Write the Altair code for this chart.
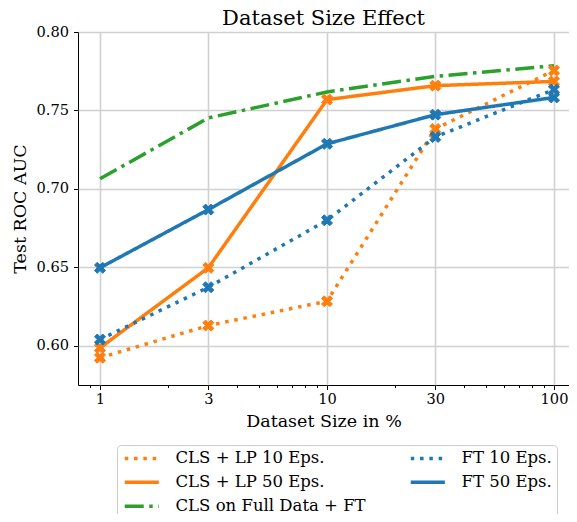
import altair as alt
import pandas as pd

# ---- data ----
sizes = [1, 3, 10, 30, 100]
series_names = [
    "CLS + LP 10 Eps.",
    "CLS + LP 50 Eps.",
    "CLS on Full Data + FT",
    "FT 10 Eps.",
    "FT 50 Eps.",
]
cls_lp_10 = [0.5924, 0.6129, 0.6284, 0.7382, 0.7755]
cls_lp_50 = [0.5987, 0.6497, 0.7569, 0.7658, 0.7685]
cls_full_ft = [0.7064, 0.7452, 0.7618, 0.7717, 0.7785]
ft_10 = [0.6040, 0.6373, 0.6800, 0.7331, 0.7633]
ft_50 = [0.6497, 0.6868, 0.7287, 0.7473, 0.7583]

values = [cls_lp_10, cls_lp_50, cls_full_ft, ft_10, ft_50]
colors = ["#ff7f0e", "#ff7f0e", "#2ca02c", "#1f77b4", "#1f77b4"]
dashes = [[3.5, 5.8], [1, 0], [19, 5.5, 3.5, 5.5], [3.5, 5.8], [1, 0]]
with_markers = [True, True, False, True, True]

major_ticks = [1, 3, 10, 30, 100]
minor_ticks = [0.8, 0.9, 2, 4, 5, 6, 7, 8, 9, 20, 40, 50, 60, 70, 80, 90]
y_ticks = [0.60, 0.65, 0.70, 0.75, 0.80]

rows = []
for name, vals, mk in zip(series_names, values, with_markers):
    for s, v in zip(sizes, vals):
        rows.append({"size": s, "auc": v, "series": name, "marker": mk})
df = pd.DataFrame(rows)

SERIF = "DejaVu Serif"
X_PATH = ("M-1,-0.5 L-0.5,-1 L0,-0.5 L0.5,-1 L1,-0.5 L0.5,0 L1,0.5 "
          "L0.5,1 L0,0.5 L-0.5,1 L-1,0.5 L-0.5,0 Z")
LEGEND_LINE = "M-1,0 L5.2,0"

major_test = "indexof([1,3,10,30,100], datum.value) >= 0"

x_scale = alt.Scale(type="log", domain=[10 ** -0.0969, 10 ** 2.0661], nice=False)
y_scale = alt.Scale(domain=[0.575, 0.80], nice=False, zero=False)

x_axis = alt.Axis(
    values=major_ticks + minor_ticks,
    labelExpr=f"{major_test} ? format(datum.value, 'd') : ''",
    labelOverlap=False,
    labelFlush=False,
    title="Dataset Size in %",
    titleFont=SERIF, titleFontSize=17.5, titleFontWeight="normal", titleColor="black",
    titlePadding=6,
    labelFont=SERIF, labelFontSize=14.6, labelColor="black", labelPadding=2,
    tickColor="black", tickWidth=1,
    tickSize={"condition": {"test": major_test, "value": 4.5}, "value": 2.5},
    grid=True, gridColor="#d0d0d0", gridWidth=1.6,
    gridOpacity={"condition": {"test": major_test, "value": 1}, "value": 0},
    domain=False,
)
y_axis = alt.Axis(
    values=y_ticks, format=".2f",
    title="Test ROC AUC",
    titleFont=SERIF, titleFontSize=17.5, titleFontWeight="normal", titleColor="black",
    titlePadding=7,
    labelFont=SERIF, labelFontSize=14.6, labelColor="black", labelPadding=5,
    tickColor="black", tickSize=4.5, tickWidth=1,
    grid=True, gridColor="#d0d0d0", gridWidth=1.6,
    domain=False,
)

legend = alt.Legend(
    title=None, orient="none", legendX=39, legendY=413,
    direction="vertical", columns=2,
    symbolType=LEGEND_LINE, symbolSize=121, symbolStrokeWidth=3.5, symbolOpacity=1,
    labelFont=SERIF, labelFontSize=16.5, labelColor="black", labelOffset=37, labelLimit=0,
    rowPadding=7, columnPadding=37, padding=5,
    strokeColor="#cccccc", cornerRadius=4, fillColor="white",
)

color_scale = alt.Scale(domain=series_names, range=colors)
dash_scale = alt.Scale(domain=series_names, range=dashes)

base = alt.Chart(df)

lines = base.mark_line(strokeWidth=3.5, strokeCap="butt", strokeJoin="round").encode(
    x=alt.X("size:Q", scale=x_scale, axis=x_axis),
    y=alt.Y("auc:Q", scale=y_scale, axis=y_axis),
    color=alt.Color("series:N", scale=color_scale, legend=legend),
    strokeDash=alt.StrokeDash("series:N", scale=dash_scale, legend=legend),
)

points = base.transform_filter("datum.marker").mark_point(
    shape=X_PATH, filled=True, size=121, opacity=1, strokeWidth=1
).encode(
    x=alt.X("size:Q", scale=x_scale),
    y=alt.Y("auc:Q", scale=y_scale),
    color=alt.Color("series:N", scale=color_scale, legend=None),
    stroke=alt.Stroke("series:N", scale=color_scale, legend=None),
)

chart = alt.layer(lines, points).properties(
    width=491, height=353,
    title=alt.TitleParams("Dataset Size Effect", font=SERIF, fontSize=21,
                          fontWeight="normal", anchor="middle", offset=-5,
                          frame="group", color="black"),
    padding={"left": 70, "top": 24, "right": 0, "bottom": 129},
    autosize=alt.AutoSizeParams(type="none"),
).configure(
    background="white", font=SERIF
).configure_view(
    stroke="black", strokeWidth=1
).configure_axis(
    labelFont=SERIF, titleFont=SERIF
).configure_legend(
    labelFont=SERIF
).configure_title(
    font=SERIF
)

chart.save("out.html", embed_options={"renderer": "svg", "actions": False})
